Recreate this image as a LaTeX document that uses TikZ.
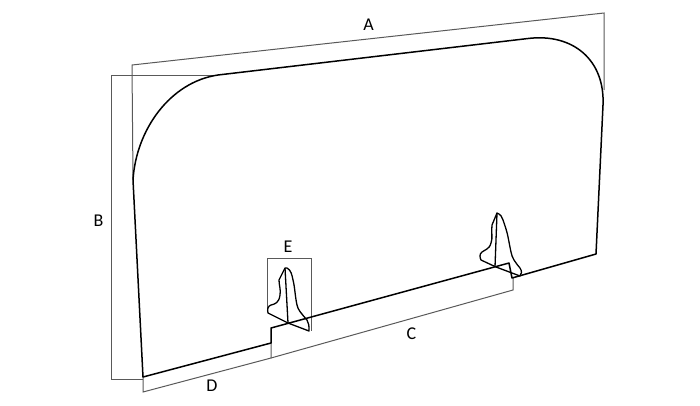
\documentclass[tikz,border=0pt]{standalone}
\usepackage{fontspec}
\setmainfont{Carlito}
\tikzset{
  outline/.style={draw=black,line width=1.5pt,line join=round},
  fin/.style={draw=black,line width=1.3pt,line join=round},
  dim/.style={draw=black!65,line width=1pt,line join=miter},
  lbl/.style={font=\fontsize{18}{21}\selectfont,text=black,inner sep=0pt}
}
\begin{document}
\begin{tikzpicture}[x=1pt,y=-1pt]
\useasboundingbox (0,0) rectangle (700,405);
% dimension brackets
\draw[dim] (133,180) -- (132,65) -- (604,13) -- (604,90);
\draw[dim] (216,75) -- (111,75) -- (111,379) -- (143,379);
\draw[dim] (143,377) -- (143,392) -- (271,358) -- (271,343);
\draw[dim] (271,358) -- (513,290) -- (513,277);
\draw[dim] (267.5,310) -- (267.5,258.5) -- (311,258.5) -- (311,331);
% panel
\draw[outline] (271,343) -- (143,377) -- (133,180)
  .. controls (136,130) and (170,82) .. (218,75)
  -- (528,38.5)
  .. controls (573,33) and (605,60) .. (603,105)
  -- (596,254) -- (512,278) -- (509,263) -- (271,328) -- cycle;
% left foot
\draw[fin] (285,268) -- (288,323);
\draw[fin] (285,268) .. controls (283,272) and (281,276) .. (279,280)
  .. controls (279,285) and (281,290) .. (280,295)
  .. controls (279,303) and (275,304) .. (271,305)
  .. controls (268,306) and (267,309) .. (268,313)
  -- (288,323) -- (309,331)
  .. controls (309,326) and (309,323) .. (307,320)
  .. controls (301,313) and (298,310) .. (297,305)
  .. controls (295,296) and (295,288) .. (293,280)
  .. controls (292,275) and (291,270) .. (287,268) -- cycle;
% right foot
\draw[fin] (497,213) -- (495,267);
\draw[fin] (497,213) -- (492,225)
  .. controls (491,232) and (493,238) .. (491,243)
  .. controls (489,250) and (485,249) .. (482,252)
  .. controls (479,254) and (480,258) .. (481,260)
  -- (496,267) -- (520,276)
  .. controls (522,274) and (522,271) .. (520,268)
  .. controls (515,262) and (512,258) .. (511,252)
  .. controls (509,243) and (508,235) .. (506,229)
  .. controls (504,223) and (502,215) .. (499,214) -- cycle;
% labels
\node[lbl] (labelA) at (368.5,25) {A};
\node[lbl] (labelB) at (98.5,221) {B};
\node[lbl] (labelC) at (411.5,334) {C};
\node[lbl] (labelD) at (212,386) {D};
\node[lbl] (labelE) at (288,247) {E};
\end{tikzpicture}
\end{document}
